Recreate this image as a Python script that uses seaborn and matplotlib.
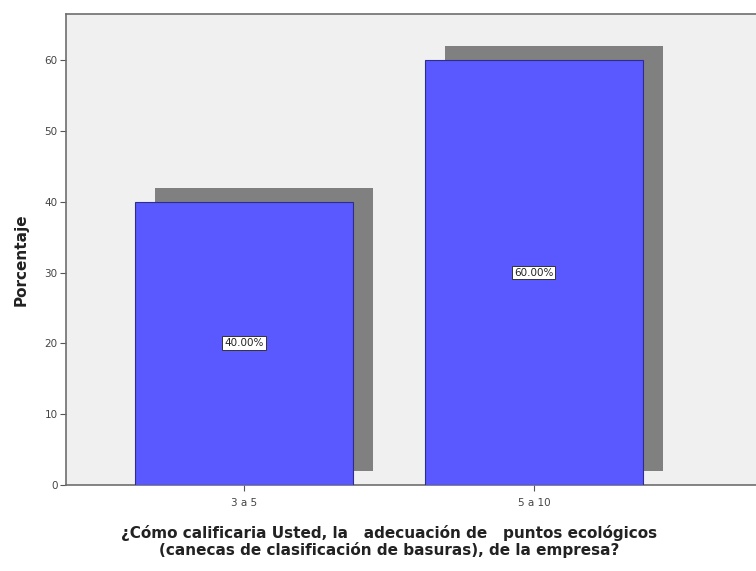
import matplotlib
matplotlib.use("Agg")
import matplotlib.pyplot as plt
import matplotlib.patheffects as pe
import seaborn as sns
import pandas as pd

categorias = ["3 a 5", "5 a 10"]
porcentajes = [40.0, 60.0]
etiquetas = ["40.00%", "60.00%"]

titulo_x = ["¿Cómo calificaria Usted, la   adecuación de   puntos ecológicos",
            "(canecas de clasificación de basuras), de la empresa?"]

df = pd.DataFrame({"categoria": categorias, "porcentaje": porcentajes})

sns.set_theme(style="white")
plt.rcParams["font.family"] = ["DejaVu Sans"]

W, H = 756, 571
fig = plt.figure(figsize=(W / 100, H / 100), dpi=100)
ax = fig.add_axes([66 / W, 1 - 485 / H, 1 - 66 / W, (485 - 14) / H])
ax.set_facecolor("#F0F0F0")

sns.barplot(data=df, x="categoria", y="porcentaje", color="#5959FF",
            saturation=1, width=0.75, edgecolor="#2E2E8A", linewidth=0.8,
            ax=ax, zorder=3)

for patch, txt in zip(ax.patches, etiquetas):
    patch.set_path_effects([
        pe.SimplePatchShadow(offset=(14.4, 10), shadow_rgbFace="#808080", alpha=1.0),
        pe.Normal(),
    ])
    cx = patch.get_x() + patch.get_width() / 2
    cy = patch.get_height() / 2
    ax.text(cx, cy, txt, ha="center", va="center", fontsize=7.5, color="#222222",
            zorder=5,
            bbox=dict(boxstyle="square,pad=0.18", facecolor="white",
                      edgecolor="#333333", linewidth=0.7))

ax.set_xlim(-0.614, 1.766)
ax.set_ylim(0, 66.5)
ax.set_yticks([0, 10, 20, 30, 40, 50, 60])

for side in ["left", "bottom", "top"]:
    ax.spines[side].set_color("#6E6E6E")
    ax.spines[side].set_linewidth(1.2)
ax.spines["right"].set_visible(False)

ax.tick_params(axis="both", which="both", direction="out", length=4, width=0.8,
               color="#555555", labelsize=7.5, labelcolor="#444444",
               left=True, bottom=True)
ax.tick_params(axis="x", pad=5)
ax.tick_params(axis="y", pad=2)

ax.set_xlabel("")
ax.set_ylabel("")

fig.text(21 / W, 1 - 260 / H, "Porcentaje", rotation=90, ha="center", va="center",
         fontsize=11, fontweight="bold", color="#222222")

for texto, yc in zip(titulo_x, [533, 550]):
    fig.text(389 / W, 1 - yc / H, texto, ha="center", va="center",
             fontsize=11, fontweight="bold", color="#222222")

fig.savefig("out.png", dpi=100)
